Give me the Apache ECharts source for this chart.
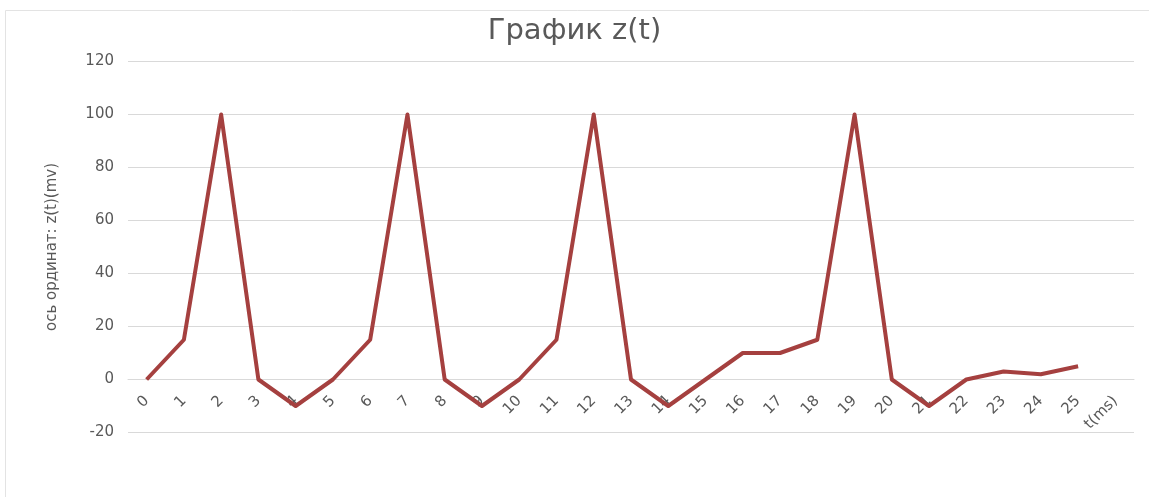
<!DOCTYPE html>
<html>
<head>
<meta charset="utf-8">
<script src="https://cdn.jsdelivr.net/npm/echarts@6/dist/echarts.min.js"></script>
<style>
  html, body { margin: 0; padding: 0; background: #fff; }
  #chart { width: 1149px; height: 497px; }
</style>
</head>
<body>
<div id="chart"></div>
<script>
// Time axis categories (the last slot carries the axis unit label)
const categories = ['0','1','2','3','4','5','6','7','8','9','10','11','12','13','14','15','16','17','18','19','20','21','22','23','24','25','t(ms)'];
// z(t) values, mV
const zValues = [0, 15, 100, 0, -10, 0, 15, 100, 0, -10, 0, 15, 100, 0, -10, 0, 10, 10, 15, 100, 0, -10, 0, 3, 2, 5, null];
// Y axis range
const yMin = -20, yMax = 120, yStep = 20;

const W = 1149, H = 497;
const gridTop = 61.5, gridBottom = 64.5;
const plotHeight = H - gridTop - gridBottom;
// the category axis crosses the value axis at z = 0
const zeroOffset = -plotHeight * (0 - yMin) / (yMax - yMin);

const chart = echarts.init(document.getElementById('chart'), null, { renderer: 'canvas' });
const textColor = '#595959';
const gridColor = '#d9d9d9';
const font = '"DejaVu Sans", Verdana, sans-serif';

chart.setOption({
  backgroundColor: '#ffffff',
  animation: false,
  title: {
    text: 'График z(t)',
    left: 'center',
    top: 12,
    textStyle: { color: textColor, fontSize: 29, fontWeight: 'normal', fontFamily: font }
  },
  graphic: [{
    type: 'rect',
    shape: { x: 5.5, y: 10.5, width: 1160, height: 520 },
    style: { fill: 'none', stroke: '#e3e3e3', lineWidth: 1 },
    silent: true,
    z: -1
  }],
  grid: { left: 128, right: 15, top: gridTop, bottom: gridBottom, containLabel: false },
  xAxis: {
    type: 'category',
    data: categories,
    boundaryGap: true,
    position: 'bottom',
    offset: zeroOffset,
    z: 0,
    axisLine: { onZero: false, lineStyle: { color: gridColor, width: 1 } },
    axisTick: { show: false },
    axisLabel: {
      rotate: 45,
      interval: 0,
      margin: 19,
      color: textColor,
      fontSize: 15,
      fontFamily: font
    },
    splitLine: { show: false }
  },
  yAxis: {
    type: 'value',
    min: yMin,
    max: yMax,
    interval: yStep,
    name: 'ось ординат: z(t)(mv)',
    nameLocation: 'middle',
    nameGap: 68,
    nameTextStyle: { color: textColor, fontSize: 15, fontFamily: font },
    axisLine: { show: false },
    axisTick: { show: false },
    axisLabel: { color: textColor, fontSize: 15, fontFamily: font, margin: 14 },
    splitLine: { lineStyle: { color: gridColor, width: 1 } }
  },
  series: [{
    type: 'line',
    data: zValues,
    symbol: 'none',
    connectNulls: false,
    lineStyle: { color: '#a5403f', width: 4, join: 'round' },
    z: 10
  }]
});
</script>
</body>
</html>
